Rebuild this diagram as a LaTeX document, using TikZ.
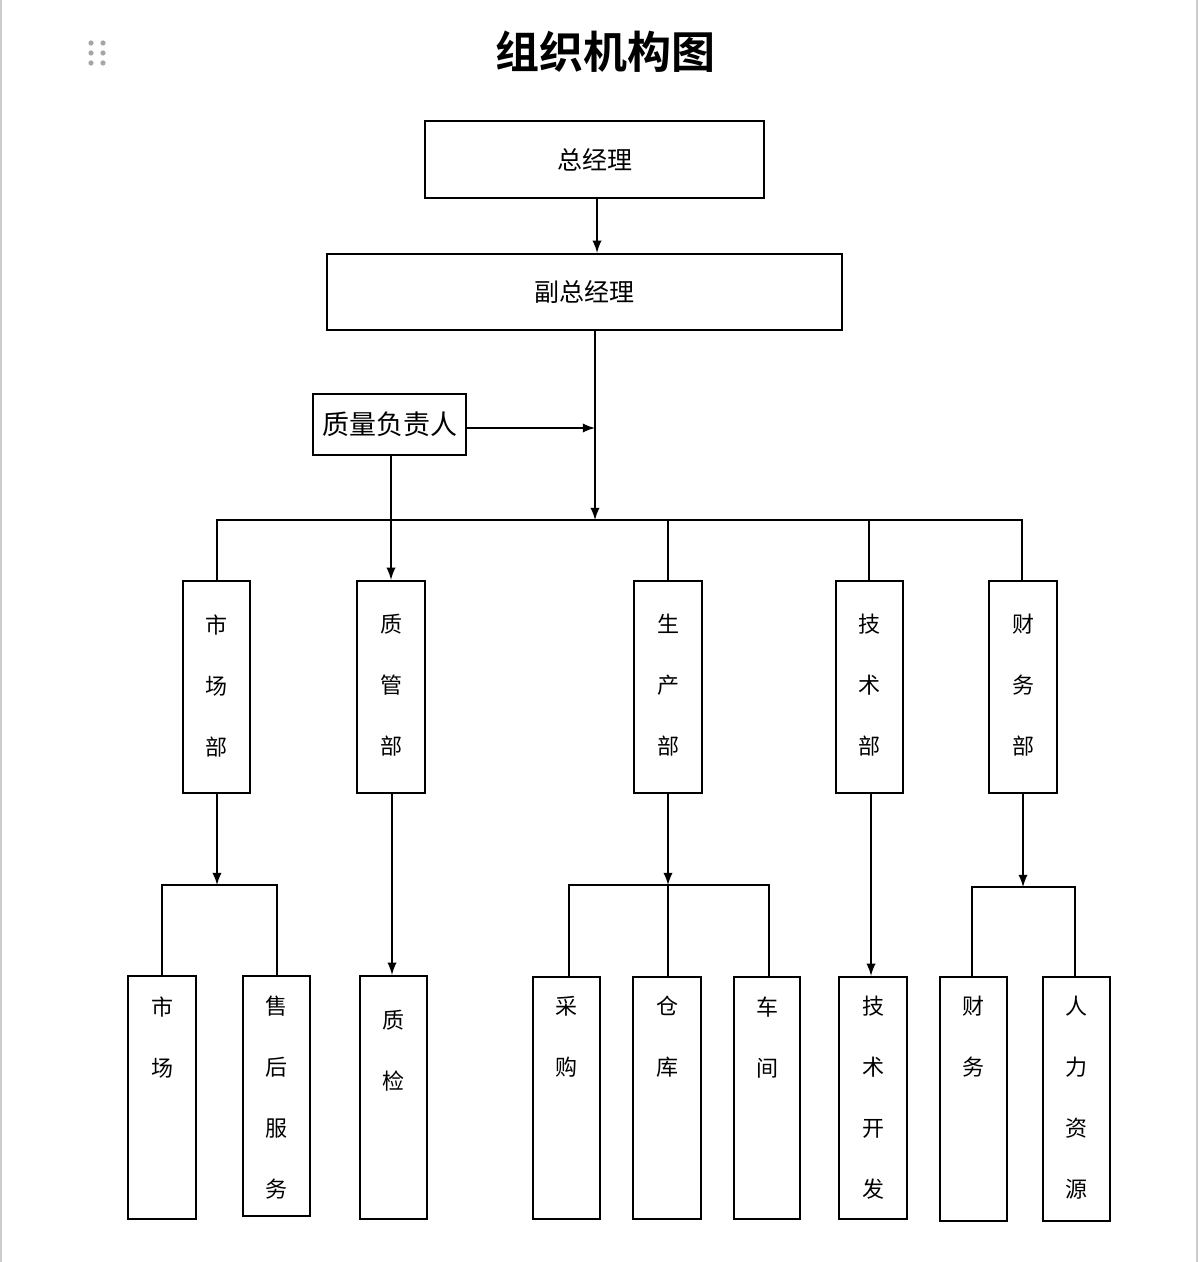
\documentclass[tikz,border=0pt]{standalone}
\usepackage{fontspec}
\setmainfont{Noto Sans CJK SC}
\newfontfamily\titlefont{Noto Sans CJK SC Bold}
\usetikzlibrary{arrows,positioning,calc}

\tikzset{
  box/.style={draw, line width=1.2pt, inner sep=0pt},
  vtext/.style={align=center, font=\fontsize{11pt}{30.5pt}\selectfont, anchor=north, inner sep=0pt},
  link/.style={line width=1.1pt},
  arr/.style={line width=1.1pt, -latex}
}

% box from (x1,y1) to (x2,y2), text from top y
\newcommand{\orgbox}[7]{%
  \node[box, minimum width=#4*0.5pt-#2*0.5pt, minimum height=#5*0.5pt-#3*0.5pt] (#1) at ({(#2+#4)/2},{(#3+#5)/2}) {};
  \node[vtext] (#1t) at ({(#2+#4)/2},#6) {#7};}

\begin{document}
\begin{tikzpicture}[x=0.5pt, y=-0.5pt]
  \useasboundingbox (0,0) rectangle (1199,1262);
  \draw[gray!40, line width=1pt] (1,0) -- (1,1262) (1197,0) -- (1197,1262);

  % handle icon
  \foreach \i in {0,1}
    \foreach \j in {0,1,2}
      \fill[gray!70] (91+12*\i,43+10*\j) circle (2.6);

  \node[font=\titlefont\fontsize{22pt}{22pt}\selectfont] (title) at (605,52) {组织机构图};

  % top boxes
  \node[box, minimum width=339*0.5pt, minimum height=77*0.5pt, font=\fontsize{12.5pt}{12.5pt}\selectfont] (gm) at (594.5,159.5) {总经理};
  \node[box, minimum width=515*0.5pt, minimum height=76*0.5pt, font=\fontsize{12.5pt}{12.5pt}\selectfont] (vgm) at (584.5,292) {副总经理};
  \node[box, minimum width=153*0.5pt, minimum height=61*0.5pt, font=\fontsize{13.5pt}{13.5pt}\selectfont] (qm) at (389.5,424.5) {质量负责人};

  % departments
  \orgbox{mkt}{183}{581}{250}{793}{614}{市\\场\\部}
  \orgbox{qa}{357}{581}{425}{793}{614}{质\\管\\部}
  \orgbox{prod}{634}{581}{702}{793}{614}{生\\产\\部}
  \orgbox{tech}{836}{581}{903}{793}{614}{技\\术\\部}
  \orgbox{fin}{989}{581}{1057}{793}{614}{财\\务\\部}

  % sections
  \orgbox{market}{128}{976}{196}{1219}{996}{市\\场}
  \orgbox{after}{243}{976}{310}{1216}{996}{售\\后\\服\\务}
  \orgbox{check}{360}{976}{427}{1219}{1010}{质\\检}
  \orgbox{buy}{533}{977}{600}{1219}{996}{采\\购}
  \orgbox{store}{633}{977}{701}{1219}{996}{仓\\库}
  \orgbox{shop}{734}{977}{800}{1219}{996}{车\\间}
  \orgbox{dev}{839}{977}{907}{1219}{996}{技\\术\\开\\发}
  \orgbox{acct}{940}{977}{1007}{1221}{996}{财\\务}
  \orgbox{hr}{1043}{977}{1110}{1221}{996}{人\\力\\资\\源}

  % junctions
  \coordinate (bus) at (595,520);
  \coordinate (mid) at (595,428);
  \coordinate (mktj) at (217,885);
  \coordinate (prodj) at (668,885);
  \coordinate (finj) at (1023,887);

  % edges
  \draw[arr] (gm.south -| 597,0) -- (vgm.north -| 597,0);
  \draw[arr] (vgm.south -| bus) -- (bus);
  \draw[arr] (qm.east |- mid) -- (mid);
  \draw[arr] (qm.south -| 391,0) -- (qa.north -| 391,0);
  \draw[link] (mkt.north -| 217,0) |- (bus) -| (fin.north -| 1022,0);
  \draw[link] (bus -| 668,0) -- (prod.north -| 668,0);
  \draw[link] (bus -| 869,0) -- (tech.north -| 869,0);

  \draw[arr] (mkt.south -| mktj) -- (mktj);
  \draw[link] (market.north -| 162,0) |- (mktj) -| (after.north -| 277,0);
  \draw[arr] (qa.south -| 392,0) -- (check.north -| 392,0);
  \draw[arr] (prod.south -| prodj) -- (prodj);
  \draw[link] (buy.north -| 569,0) |- (prodj) -| (shop.north -| 769,0);
  \draw[link] (prodj) -- (store.north -| prodj);
  \draw[arr] (tech.south -| 871,0) -- (dev.north -| 871,0);
  \draw[arr] (fin.south -| finj) -- (finj);
  \draw[link] (acct.north -| 972,0) |- (finj) -| (hr.north -| 1075,0);
\end{tikzpicture}
\end{document}
